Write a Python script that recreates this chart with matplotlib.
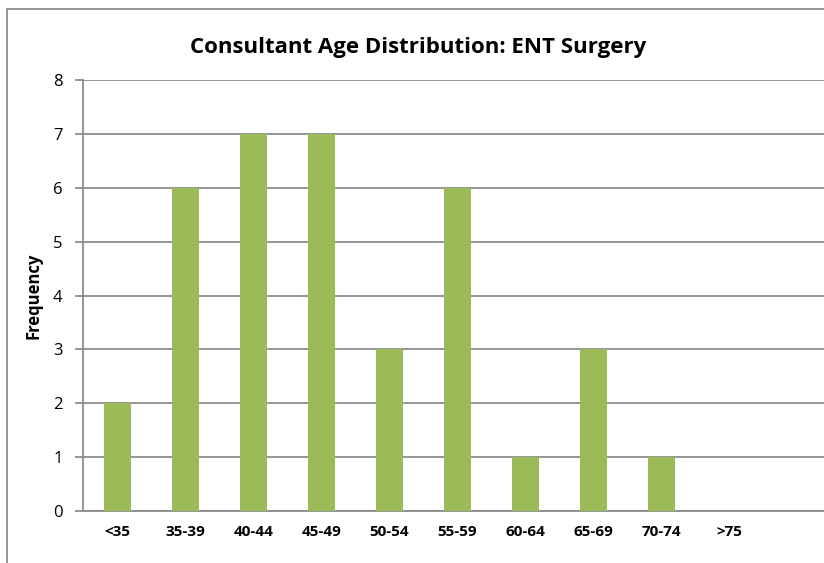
import matplotlib.pyplot as plt
from matplotlib.patches import Rectangle

categories = ['<35', '35-39', '40-44', '45-49', '50-54', '55-59',
              '60-64', '65-69', '70-74', '>75']
frequency = [2, 6, 7, 7, 3, 6, 1, 3, 1, 0]

plt.rcParams['font.family'] = ['Open Sans', 'DejaVu Sans']

fig = plt.figure(figsize=(8.24, 5.63), dpi=100)

# outer chart border (only left and top show, rest runs off the picture)
fig.patches.append(Rectangle((6.5 / 824, -0.5), 2.0, 0.5 + (563 - 9.5) / 563,
                             transform=fig.transFigure, fill=False,
                             edgecolor='#8c8c8c', linewidth=1.3))

ax = fig.add_axes([83.3 / 824, 52 / 563, 816 / 824, 431 / 563])
ax.bar(range(len(categories)), frequency, width=0.4, color='#9bbb59', zorder=3)

ax.set_xlim(-0.5, 11.5)
ax.set_ylim(0, 8)
ax.set_yticks(range(9))
ax.yaxis.grid(True, color='#8c8c8c', linewidth=1.3, zorder=0)

ax.set_xticks(range(len(categories)))
ax.set_xticklabels(categories, fontsize=11, fontweight='bold')
ax.tick_params(axis='x', length=0, pad=10)
ax.tick_params(axis='y', length=6, width=1.3, color='#8c8c8c',
               labelsize=12, pad=9)

for side in ['top', 'right']:
    ax.spines[side].set_visible(False)
for side in ['left', 'bottom']:
    ax.spines[side].set_color('#8c8c8c')
    ax.spines[side].set_linewidth(1.3)

ax.set_ylabel('Frequency', fontsize=12, fontweight='bold')
ax.yaxis.set_label_coords((42 - 83.3) / 816, 0.5)
fig.text(418 / 824, 1 - 47 / 563, 'Consultant Age Distribution: ENT Surgery',
         ha='center', va='center', fontsize=16, fontweight='bold')

fig.savefig('out.png', dpi=100)
